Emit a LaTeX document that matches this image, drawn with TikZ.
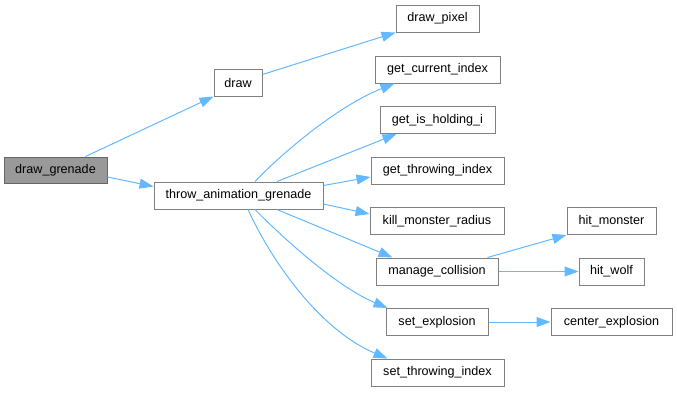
\documentclass[tikz,border=0pt]{standalone}
\usepackage{fontspec}
\setmainfont{Liberation Sans}
\usetikzlibrary{arrows.meta,calc}
\definecolor{edgeblue}{HTML}{63B8FF}
\definecolor{boxline}{HTML}{808080}
\definecolor{curfill}{HTML}{999999}
\tikzset{
  fn/.style={draw=boxline, line width=1pt, fill=white, minimum height=27pt,
    inner sep=0pt, font=\fontsize{12.6}{14}\selectfont, anchor=center},
  curfn/.style={fn, fill=curfill, draw=boxline!80!black},
  call/.style={draw=edgeblue, line width=1pt,
    -{Triangle[length=14pt,width=10pt]}},
}
\begin{document}
\begin{tikzpicture}[x=1pt,y=-1pt]
\useasboundingbox (0,0) rectangle (677,392);
% functions
\node[curfn, minimum width=103pt, minimum height=26pt] (dg) at (55.5,170) {draw\_grenade};
\node[fn, minimum width=169pt] (thr) at (238.5,195.5) {throw\_animation\_grenade};
\node[fn, minimum width=48pt] (drw) at (238,82.5) {draw};
\node[fn, minimum width=83pt] (dp) at (437.5,18.5) {draw\_pixel};
\node[fn, minimum width=125pt] (gci) at (437.5,69.5) {get\_current\_index};
\node[fn, minimum width=115pt] (gih) at (437.5,120) {get\_is\_holding\_i};
\node[fn, minimum width=133pt] (gti) at (437.5,170.5) {get\_throwing\_index};
\node[fn, minimum width=134pt] (kmr) at (437,221) {kill\_monster\_radius};
\node[fn, minimum width=122pt] (mc) at (437,271.5) {manage\_collision};
\node[fn, minimum width=102pt] (se) at (437,322) {set\_explosion};
\node[fn, minimum width=133pt] (sti) at (437.5,372.5) {set\_throwing\_index};
\node[fn, minimum width=89pt] (hm) at (611.5,221) {hit\_monster};
\node[fn, minimum width=65pt] (hw) at (611.5,271.5) {hit\_wolf};
\node[fn, minimum width=121pt] (ce) at (611.5,322) {center\_explosion};
% calls
\draw[call] ($(dg.north)+(30,0)$) -- (drw.south west);
\draw[call] ($(dg.east)+(0,7)$) -- ($(thr.west)+(0,-9)$);
\draw[call] ($(drw.east)+(0,-8)$) -- (dp.south west);
\draw[call] ($(thr.north)+(16.5,0)$) .. controls (285,150) and (340,105) .. ($(gci.south west)+(20,0)$);
\draw[call] ($(thr.north)+(38.5,0)$) -- ($(gih.south west)+(17,0)$);
\draw[call] ($(thr.east)+(0,-10)$) -- ($(gti.west)+(0,6.5)$);
\draw[call] ($(thr.east)+(0,8.5)$) -- ($(kmr.west)+(0,-7)$);
\draw[call] ($(thr.south)+(38.5,0)$) -- ($(mc.north west)+(17,0)$);
\draw[call] ($(thr.south)+(16.5,0)$) .. controls (290,245) and (340,288) .. ($(se.north west)+(2,0)$);
\draw[call] ($(thr.south)+(9.5,0)$) .. controls (272,262) and (320,330) .. ($(sti.north west)+(17,0)$);
\draw[call] ($(mc.north east)+(-11,0)$) -- (hm.south west);
\draw[call] (mc.east) -- (hw.west);
\draw[call] (se.east) -- (ce.west);
\end{tikzpicture}
\end{document}
